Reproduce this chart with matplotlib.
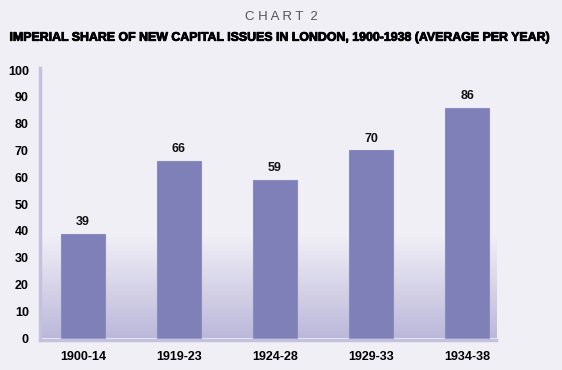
import numpy as np
import matplotlib.pyplot as plt
import matplotlib.patheffects as pe
from matplotlib.colors import LinearSegmentedColormap

periods = ["1900-14", "1919-23", "1924-28", "1929-33", "1934-38"]
shares = [39, 66, 59, 70, 86]
yticks = [0, 10, 20, 30, 40, 50, 60, 70, 80, 90, 100]

bg = "#f0eff6"
bar_color = "#7f80b8"
axis_color = "#c4c1df"

plt.rcParams["font.family"] = ["Liberation Sans", "DejaVu Sans"]

fig = plt.figure(figsize=(5.62, 3.70), dpi=100, facecolor=bg)
ax = fig.add_axes([0.071, 0.081, 0.8115, 0.735])
ax.set_facecolor(bg)

x = np.arange(len(periods))
ax.set_xlim(-0.448, 4.30)
ax.set_ylim(-0.75, 100.75)

# soft gradient behind the lower part of the plot
cmap = LinearSegmentedColormap.from_list("fade", [bg, "#bcb8da"])
grad = np.linspace(0, 1, 256).reshape(-1, 1)
ax.imshow(grad, cmap=cmap, aspect="auto", origin="upper",
          extent=(-0.448, 4.30, 0, 38), zorder=0)

ax.bar(x, shares, width=0.46, color=bar_color, edgecolor="#8b8cc2",
       linewidth=0.8, zorder=2)
for xi, v in zip(x, shares):
    ax.text(xi, v + 2.2, str(v), ha="center", va="bottom",
            fontsize=9, fontweight="bold", color="#111111")

ax.set_xticks(x)
ax.set_xticklabels(periods, fontsize=9, fontweight="bold")
ax.set_yticks(yticks)
ax.set_yticklabels([str(t) for t in yticks], fontsize=9, fontweight="bold")
ax.tick_params(length=0, pad=8)
ax.tick_params(axis="x", pad=8)

for s in ["top", "right"]:
    ax.spines[s].set_visible(False)
ax.spines["left"].set_color(axis_color)
ax.spines["left"].set_linewidth(2.5)
ax.spines["bottom"].set_color(axis_color)
ax.spines["bottom"].set_linewidth(2.5)

fig.text(0.5, 0.955, "C H A R T  2", ha="center", va="center",
         fontsize=9.5, color="#555555")
fig.text(0.5, 0.898,
         "IMPERIAL SHARE OF NEW CAPITAL ISSUES IN LONDON, 1900-1938 (AVERAGE PER YEAR)",
         ha="center", va="center", fontsize=8.9, fontweight="bold", color="#000000",
         path_effects=[pe.withStroke(linewidth=0.6, foreground="#000000")])

fig.savefig("out.png", dpi=100, facecolor=bg)
